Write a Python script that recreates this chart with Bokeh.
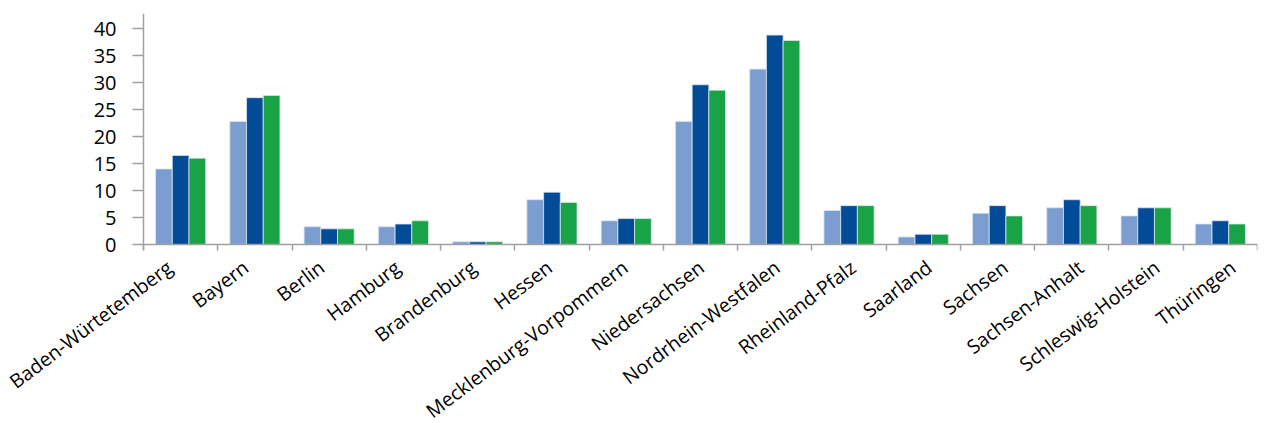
import math
from bokeh.plotting import figure
from bokeh.models import Range1d, FixedTicker, LabelSet, ColumnDataSource
from bokeh.core.properties import value
from bokeh.embed import file_html
from bokeh.resources import INLINE

states = ["Baden-Würtetemberg", "Bayern", "Berlin", "Hamburg", "Brandenburg", "Hessen",
          "Mecklenburg-Vorpommern", "Niedersachsen", "Nordrhein-Westfalen", "Rheinland-Pfalz",
          "Saarland", "Sachsen", "Sachsen-Anhalt", "Schleswig-Holstein", "Thüringen"]
series_a = [14.0, 22.8, 3.3, 3.3, 0.5, 8.3, 4.4, 22.8, 32.5, 6.3, 1.4, 5.8, 6.8, 5.3, 3.8]
series_b = [16.5, 27.2, 2.9, 3.8, 0.5, 9.7, 4.8, 29.6, 38.8, 7.2, 1.9, 7.2, 8.3, 6.8, 4.4]
series_c = [16.0, 27.6, 2.9, 4.4, 0.5, 7.8, 4.8, 28.6, 37.8, 7.2, 1.9, 5.3, 7.2, 6.8, 3.8]
y_ticks = [0, 5, 10, 15, 20, 25, 30, 35, 40]

colors = ["#7B9DCF", "#024B96", "#19A347"]
bar_w = 0.225
n = len(states)
y_top = 42.8

# The frame covers the whole canvas (except a thin top/right margin) so the
# rotated category names and the y tick labels are never clipped; the axes
# sit at data 0 via fixed_location.
W, H = 1264, 423
left_px, right_px, top_px, zero_px = 143, 7, 13, 244
px_x = (W - left_px - right_px) / n
px_y = (zero_px - top_px) / y_top
x_start = -left_px / px_x
y_bottom = -(H - zero_px) / px_y

p = figure(width=W, height=H, output_backend="svg", toolbar_location=None,
           x_range=Range1d(x_start, n), y_range=Range1d(y_bottom, y_top),
           min_border_left=0, min_border_right=right_px, min_border_top=top_px,
           min_border_bottom=0)

for k, (vals, col) in enumerate(zip([series_a, series_b, series_c], colors)):
    xs = [i + 0.5 + (k - 1) * bar_w for i in range(n)]
    p.vbar(x=xs, top=vals, bottom=0, width=bar_w, fill_color=col,
           line_color="#dde4ee", line_width=0.8)

p.xgrid.visible = False
p.ygrid.visible = False
p.outline_line_color = None
p.background_fill_color = "white"
p.border_fill_color = "white"

axis_col = "#a0a0a0"
xa = p.xaxis[0]
xa.fixed_location = 0
xa.bounds = (0, n)
xa.ticker = FixedTicker(ticks=[], minor_ticks=list(range(n + 1)))
xa.major_label_text_font_size = "0px"
xa.major_tick_in = 0
xa.major_tick_out = 0
xa.minor_tick_in = 0
xa.minor_tick_out = 6
xa.minor_tick_line_color = axis_col
xa.minor_tick_line_width = 1.5
xa.axis_line_color = axis_col
xa.axis_line_width = 1.5

# category names, rotated, hanging below each category
label_dx = [-11 + 1.68 * i for i in range(n)]
lab_src = ColumnDataSource(dict(x=[i + 0.5 for i in range(n)], y=[0] * n,
                                text=states, dx=label_dx))
labels = LabelSet(x="x", y="y", text="text", source=lab_src,
                  angle=37, angle_units="deg", text_align="right", text_baseline="middle",
                  x_offset="dx", y_offset=-20,
                  text_font=value("Open Sans"), text_font_size=value("19.5px"),
                  text_color="#000000")
p.add_layout(labels)

ya = p.yaxis[0]
ya.fixed_location = 0
ya.bounds = (-1.0, y_top)
ya.ticker = FixedTicker(ticks=y_ticks)
ya.major_tick_in = 0
ya.major_tick_out = 11
ya.minor_tick_line_color = None
ya.major_tick_line_color = axis_col
ya.major_tick_line_width = 1.5
ya.axis_line_color = axis_col
ya.axis_line_width = 1.5
ya.major_label_standoff = 16
ya.major_label_text_font = "Open Sans"
ya.major_label_text_font_size = "20px"
ya.major_label_text_color = "#000000"

open("out.html", "w").write(file_html(p, INLINE))
